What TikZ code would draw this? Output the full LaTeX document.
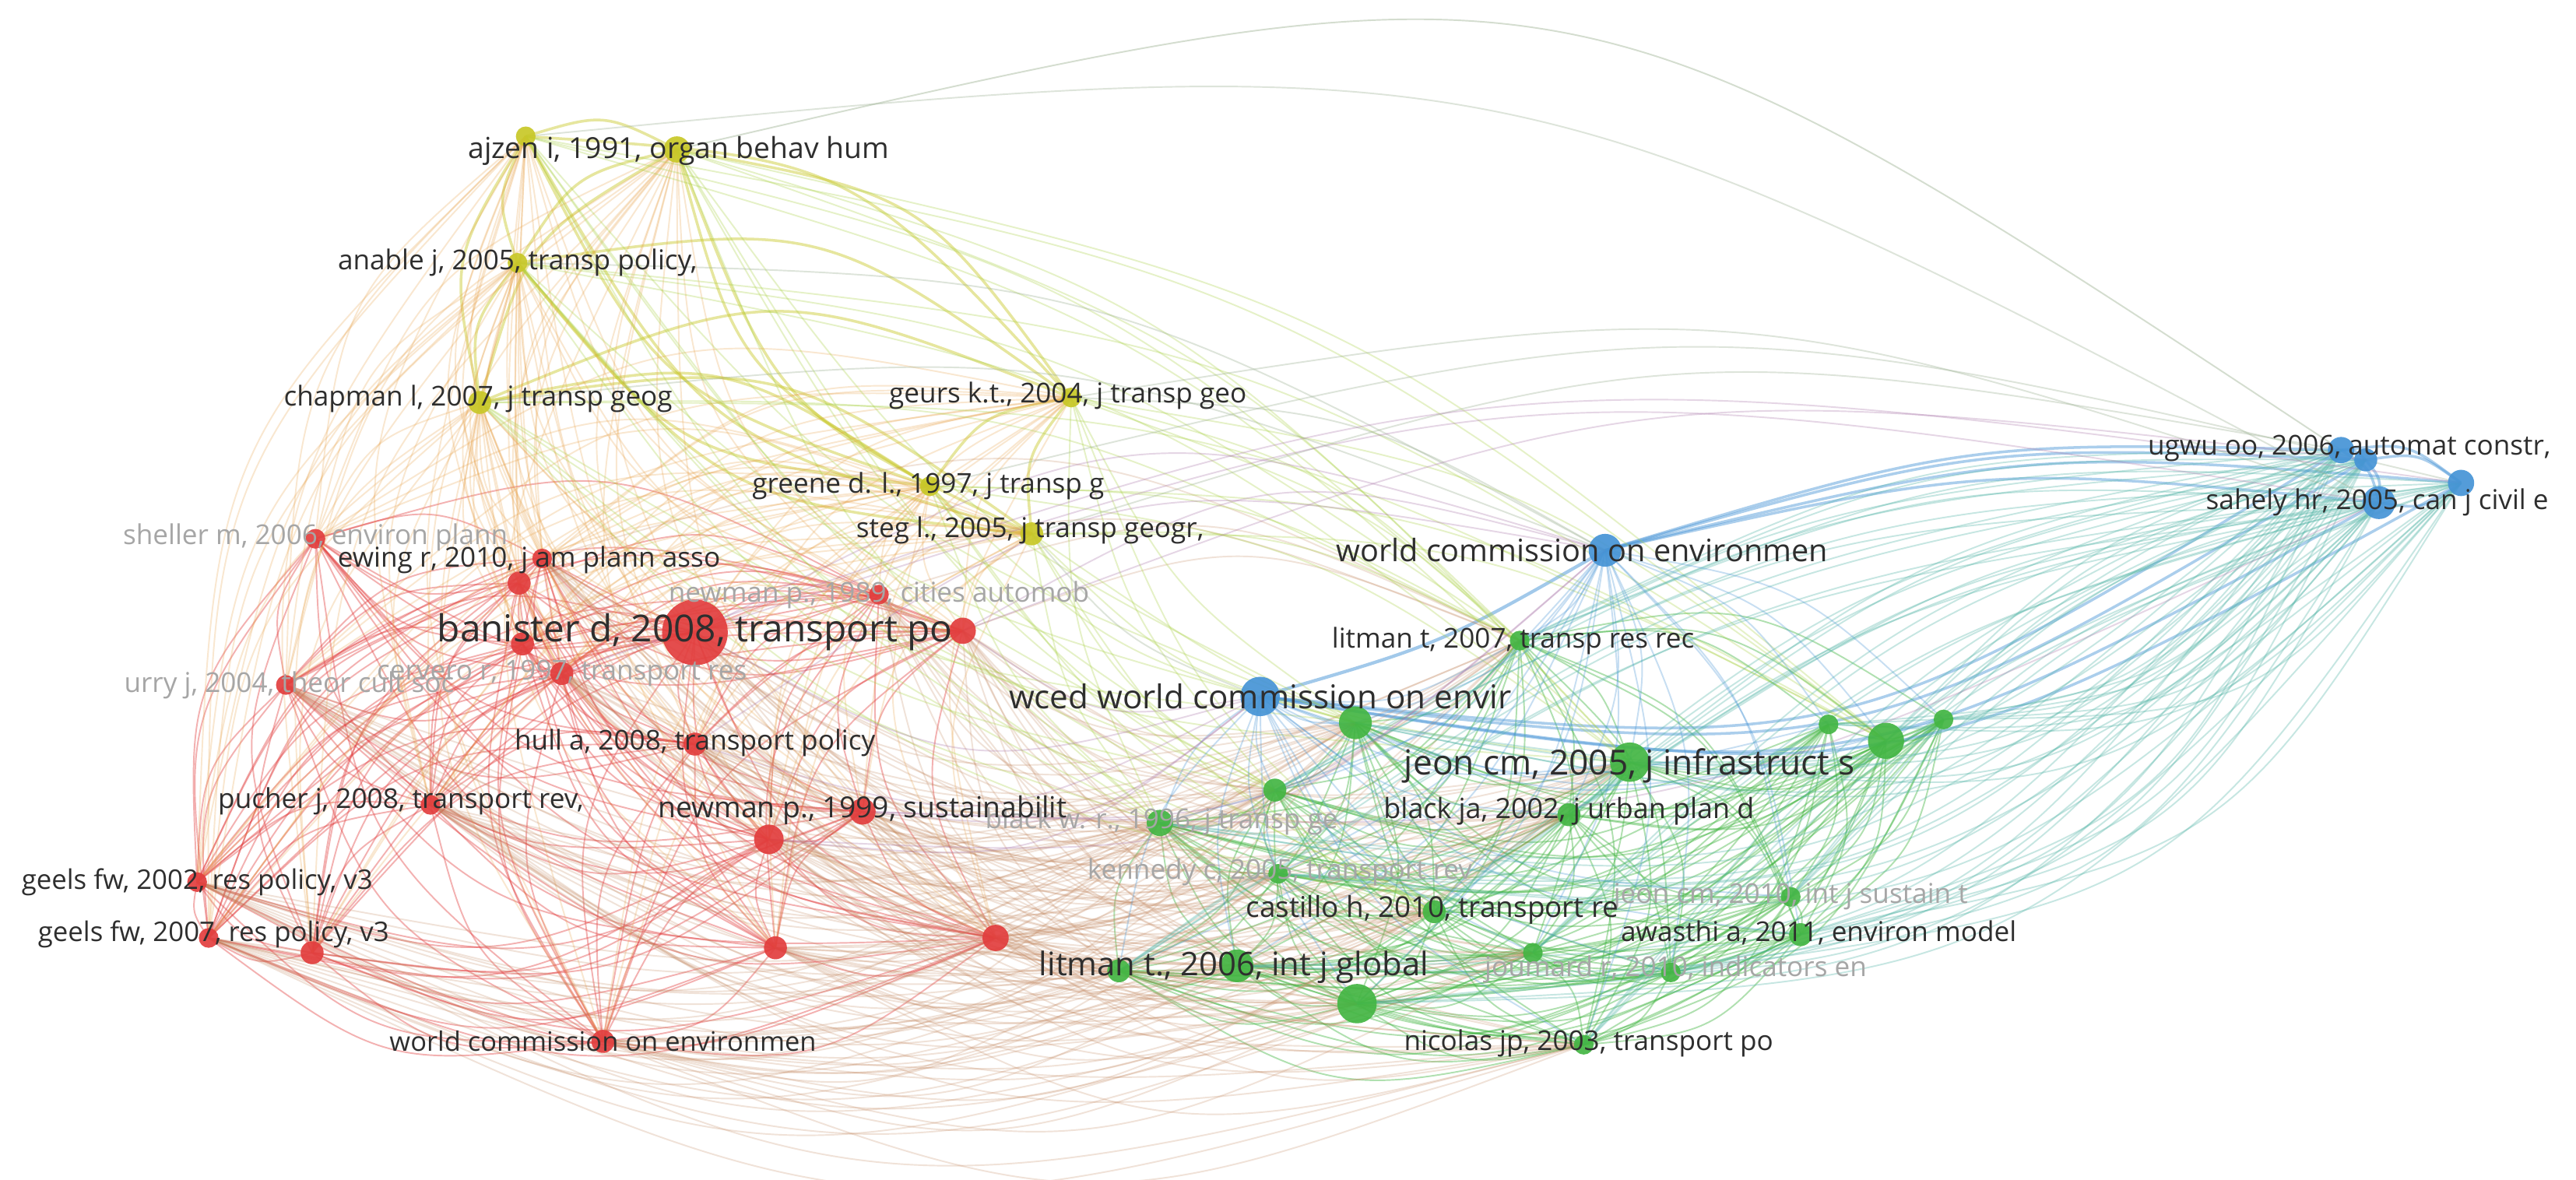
\documentclass[tikz,border=0pt]{standalone}
\usepackage{fontspec}
\setmainfont{Open Sans}
\usetikzlibrary{calc}
\pgfdeclarelayer{bg}
\pgfdeclarelayer{edges}
\pgfsetlayers{bg,edges,main}
\definecolor{cred}{RGB}{226,62,62}
\definecolor{cgreen}{RGB}{68,182,68}
\definecolor{cblue}{RGB}{70,148,214}
\definecolor{cyel}{RGB}{200,200,40}
\definecolor{eRY}{RGB}{232,160,70}
\definecolor{eRG}{RGB}{195,135,95}
\definecolor{eYG}{RGB}{170,210,70}
\definecolor{eBG}{RGB}{80,180,165}
\definecolor{eRB}{RGB}{170,120,170}
\definecolor{eYB}{RGB}{160,180,150}
\tikzset{
  vosedge/.style={line width=0.55pt, draw opacity=0.38},
  vdot/.style 2 args={circle, fill=#1, fill opacity=0.92, draw=none, minimum size=#2*0.422mm, inner sep=0pt},
  lab/.style={font=\fontsize{#1}{#1}\selectfont, text=black!82, inner sep=0pt},
  flab/.style={font=\fontsize{#1}{#1}\selectfont, text=black!35, inner sep=0pt},
}
% edge bent away from the centre (ctr) by factor #5 (negative: towards it)
\newcommand\vedgeK[5][]{%
  \draw[vosedge,draw=#2,#1] let \p1=(#3.center), \p2=(#4.center), \p3=(ctr),
    \n1={ifthenelse(-((\y2-\y1)/100)*(((\x1+\x2)/2-\x3)/100)+((\x2-\x1)/100)*(((\y1+\y2)/2-\y3)/100)>=0,1,-1)*(#5)}
  in (\p1) .. controls ({(\x1+\x2)/2-(\n1)*(\y2-\y1)},{(\y1+\y2)/2+(\n1)*(\x2-\x1)}) .. (\p2);}
\newcommand\vedge[4][]{\vedgeK[#1]{#2}{#3}{#4}{0.2}}
\def\Rlist{sheller,ewingA,ewingB,banister,rR,newmanA,cervero,rL,urry,hull,pucher,newmanB,rM,geelsA,geelsB,rG,rB1,rB2,wcRed}
\def\Ylist{ajA,ajB,anable,chapman,geurs,greene,steg}
\def\Glist{blackwr,gA,gB,litmanA,jeonA,blackja,kennedy,castillo,litmanB,gC,gD,gE,joumard,jeonB,awasthi,nicolas,gF,gG,gH}
\def\BRlist{ugwuA,ugwuB,sahely,bR}
\def\Rhub{banister,rR,newmanA,newmanB,rM,rB1,rB2,hull,cervero,ewingA,pucher,geelsA,geelsB,urry,wcRed}
\def\Gsub{blackwr,gA,gB,litmanA,jeonA,blackja,kennedy,castillo,litmanB,gC,gD,nicolas,gE}
\def\Gy{gA,gB,litmanA,jeonA,blackwr,castillo,gG}
\begin{document}
\begin{tikzpicture}[x=0.211033mm,y=-0.211033mm]
\begin{pgfonlayer}{bg}
\fill[white] (0,0) rectangle (1568,718);
\end{pgfonlayer}
\useasboundingbox (0,0) rectangle (1568,718);
\coordinate (ctr) at (800,390);
% yellow cluster
\node[vdot={cyel}{6}] (ajA) at (320,83) {};
\node[vdot={cyel}{8}] (ajB) at (412,91) {};
\node[vdot={cyel}{6}] (anable) at (315,160) {};
\node[vdot={cyel}{7}] (chapman) at (292,245) {};
\node[vdot={cyel}{6}] (geurs) at (652,242) {};
\node[vdot={cyel}{6}] (greene) at (566,296) {};
\node[vdot={cyel}{7}] (steg) at (628,325) {};
% red cluster
\node[vdot={cred}{6}] (sheller) at (192,328) {};
\node[vdot={cred}{6}] (ewingA) at (330,340) {};
\node[vdot={cred}{7}] (ewingB) at (316,355) {};
\node[vdot={cred}{20}] (banister) at (423,385) {};
\node[vdot={cred}{8}] (rR) at (586,384) {};
\node[vdot={cred}{6}] (newmanA) at (535,362) {};
\node[vdot={cred}{7}] (cervero) at (342,410) {};
\node[vdot={cred}{7}] (rL) at (318,392) {};
\node[vdot={cred}{6}] (urry) at (174,417) {};
\node[vdot={cred}{7}] (hull) at (423,453) {};
\node[vdot={cred}{6}] (pucher) at (262,490) {};
\node[vdot={cred}{8}] (newmanB) at (525,494) {};
\node[vdot={cred}{9}] (rM) at (468,511) {};
\node[vdot={cred}{6}] (geelsA) at (120,537) {};
\node[vdot={cred}{6}] (geelsB) at (127,571) {};
\node[vdot={cred}{7}] (rG) at (190,580) {};
\node[vdot={cred}{7}] (rB1) at (472,577) {};
\node[vdot={cred}{8}] (rB2) at (606,571) {};
\node[vdot={cred}{7}] (wcRed) at (367,634) {};
% green cluster
\node[vdot={cgreen}{8}] (blackwr) at (706,501) {};
\node[vdot={cgreen}{7}] (gA) at (776,481) {};
\node[vdot={cgreen}{10}] (gB) at (825,440) {};
\node[vdot={cgreen}{6}] (litmanA) at (925,390) {};
\node[vdot={cgreen}{12}] (jeonA) at (992,464) {};
\node[vdot={cgreen}{7}] (blackja) at (955,496) {};
\node[vdot={cgreen}{6}] (kennedy) at (778,532) {};
\node[vdot={cgreen}{7}] (castillo) at (873,555) {};
\node[vdot={cgreen}{10}] (litmanB) at (753,588) {};
\node[vdot={cgreen}{7}] (gC) at (681,591) {};
\node[vdot={cgreen}{12}] (gD) at (826,611) {};
\node[vdot={cgreen}{6}] (gE) at (933,580) {};
\node[vdot={cgreen}{6}] (joumard) at (1017,592) {};
\node[vdot={cgreen}{6}] (jeonB) at (1090,546) {};
\node[vdot={cgreen}{7}] (awasthi) at (1096,569) {};
\node[vdot={cgreen}{6}] (nicolas) at (964,636) {};
\node[vdot={cgreen}{6}] (gF) at (1113,441) {};
\node[vdot={cgreen}{11}] (gG) at (1148,451) {};
\node[vdot={cgreen}{6}] (gH) at (1183,438) {};
% blue cluster
\node[vdot={cblue}{12}] (wced) at (767,424) {};
\node[vdot={cblue}{10}] (wcBlue) at (977,335) {};
\node[vdot={cblue}{8}] (ugwuA) at (1425,274) {};
\node[vdot={cblue}{7}] (ugwuB) at (1440,280) {};
\node[vdot={cblue}{10}] (sahely) at (1448,306) {};
\node[vdot={cblue}{8}] (bR) at (1498,294) {};
% labels
\node[flab=10] (tsheller) at (192,327) {sheller m, 2006, environ plann};
\node[flab=10] (tnewmanA) at (535,362) {newman p., 1989, cities automob};
\node[flab=10] (tcervero) at (342,410) {cervero r, 1997, transport res};
\node[flab=10] (turry) at (176,417) {urry j, 2004, theor cult soc};
\node[flab=10] (tblackwr) at (707,500) {black w. r., 1996, j transp ge};
\node[flab=10] (tkennedy) at (779,531) {kennedy c, 2005, transport rev};
\node[flab=10] (tjoumard) at (1020,590) {joumard r, 2010, indicators en};
\node[flab=10] (tjeonB) at (1090,546) {jeon cm, 2010, int j sustain t};
\node[lab=10.6] (tajB) at (413,92) {ajzen i, 1991, organ behav hum};
\node[lab=10] (tanable) at (315,160) {anable j, 2005, transp policy,};
\node[lab=10] (tchapman) at (291,243) {chapman l, 2007, j transp geog};
\node[lab=10] (tgeurs) at (650,241) {geurs k.t., 2004, j transp geo};
\node[lab=10] (tgreene) at (565,296) {greene d. l., 1997, j transp g};
\node[lab=10] (tsteg) at (627,323) {steg l., 2005, j transp geogr,};
\node[lab=10] (tewing) at (322,341) {ewing r, 2010, j am plann asso};
\node[lab=13.6] (tbanister) at (423,385) {banister d, 2008, transport po};
\node[lab=10] (thull) at (423,452) {hull a, 2008, transport policy};
\node[lab=10] (tpucher) at (244,488) {pucher j, 2008, transport rev,};
\node[lab=10.6] (tnewmanB) at (525,493) {newman p., 1999, sustainabilit};
\node[lab=9.9] (tgeelsA) at (120,537) {geels fw, 2002, res policy, v3};
\node[lab=9.9] (tgeelsB) at (130,569) {geels fw, 2007, res policy, v3};
\node[lab=9.8] (twcRed) at (367,634) {world commission on environmen};
\node[lab=12] (twced) at (767,424) {wced world commission on envir};
\node[lab=11.3] (twcBlue) at (963,335) {world commission on environmen};
\node[lab=10] (tugwu) at (1430,273) {ugwu oo, 2006, automat constr,};
\node[lab=10] (tsahely) at (1447,306) {sahely hr, 2005, can j civil e};
\node[lab=10] (tlitmanA) at (921,390) {litman t, 2007, transp res rec};
\node[lab=12.6] (tjeonA) at (992,466) {jeon cm, 2005, j infrastruct s};
\node[lab=10.2] (tblackja) at (955,494) {black ja, 2002, j urban plan d};
\node[lab=10.5] (tcastillo) at (872,554) {castillo h, 2010, transport re};
\node[lab=11.9] (tlitmanB) at (751,589) {litman t., 2006, int j global};
\node[lab=10] (tawasthi) at (1107,568) {awasthi a, 2011, environ model};
\node[lab=10] (tnicolas) at (967,635) {nicolas jp, 2003, transport po};
% edges
\begin{pgfonlayer}{edges}
\foreach \a [count=\i] in \Rlist {\foreach \b [count=\j] in \Rlist {\ifnum\j>\i \vedge[draw opacity=0.4]{cred}{\a}{\b}\fi}}
\foreach \a [count=\i] in \Glist {\foreach \b [count=\j] in \Glist {\ifnum\j>\i \vedge[draw opacity=0.42]{cgreen}{\a}{\b}\fi}}
\foreach \a [count=\i] in \Ylist {\foreach \b [count=\j] in \Ylist {\ifnum\j>\i \vedge[line width=1pt,draw opacity=0.45]{cyel}{\a}{\b}\fi}}
\foreach \a [count=\i] in \BRlist {\foreach \b [count=\j] in \BRlist {\ifnum\j>\i \vedge[line width=1pt,draw opacity=0.45]{cblue}{\a}{\b}\fi}}
\vedgeK[line width=1.2pt,draw opacity=0.5]{cblue}{wced}{wcBlue}{0.06}
\foreach \b in \BRlist {\vedgeK[line width=1pt,draw opacity=0.45]{cblue}{wced}{\b}{0.17}}
\foreach \b in \BRlist {\vedgeK[line width=1pt,draw opacity=0.45]{cblue}{wcBlue}{\b}{0.08}}
\foreach \a in \Rlist {\foreach \b in \Ylist {\vedge[draw opacity=0.25]{eRY}{\a}{\b}}}
\foreach \a in \Rhub {\foreach \b in \Gsub {\vedgeK[draw opacity=0.24]{eRG}{\a}{\b}{0.19}}}
\foreach \a in \Ylist {\foreach \b in \Gy {\vedgeK[draw opacity=0.3]{eYG}{\a}{\b}{0.12}}}
\foreach \a in \BRlist {\foreach \b [count=\j] in \Glist {\ifodd\j \vedgeK[draw opacity=0.32]{eBG}{\a}{\b}{0.22}\else\vedgeK[draw opacity=0.32]{eBG}{\a}{\b}{-0.11}\fi}}
\foreach \a in {wced,wcBlue} {\foreach \b in \Glist {\vedgeK[draw opacity=0.3]{cblue}{\a}{\b}{0.15}}}
\foreach \a in {wced,wcBlue} {\foreach \b in {banister,rR,newmanB,hull,rM} {\vedge[draw opacity=0.3]{eRB}{\a}{\b}}}
\vedgeK[draw opacity=0.45]{eYB}{ajB}{ugwuA}{0.215}
\vedgeK[draw opacity=0.35]{eYB}{ajA}{sahely}{0.15}
\foreach \a/\b in {geurs/sahely,steg/ugwuA,greene/bR,chapman/wcBlue,anable/wcBlue,steg/wced,geurs/wcBlue} {\vedgeK[draw opacity=0.35]{eYB}{\a}{\b}{0.12}}
\foreach \a/\b in {banister/sahely,rR/ugwuB,newmanB/sahely,cervero/bR} {\vedgeK[draw opacity=0.3]{eRB}{\a}{\b}{0.12}}
\end{pgfonlayer}
\end{tikzpicture}
\end{document}
